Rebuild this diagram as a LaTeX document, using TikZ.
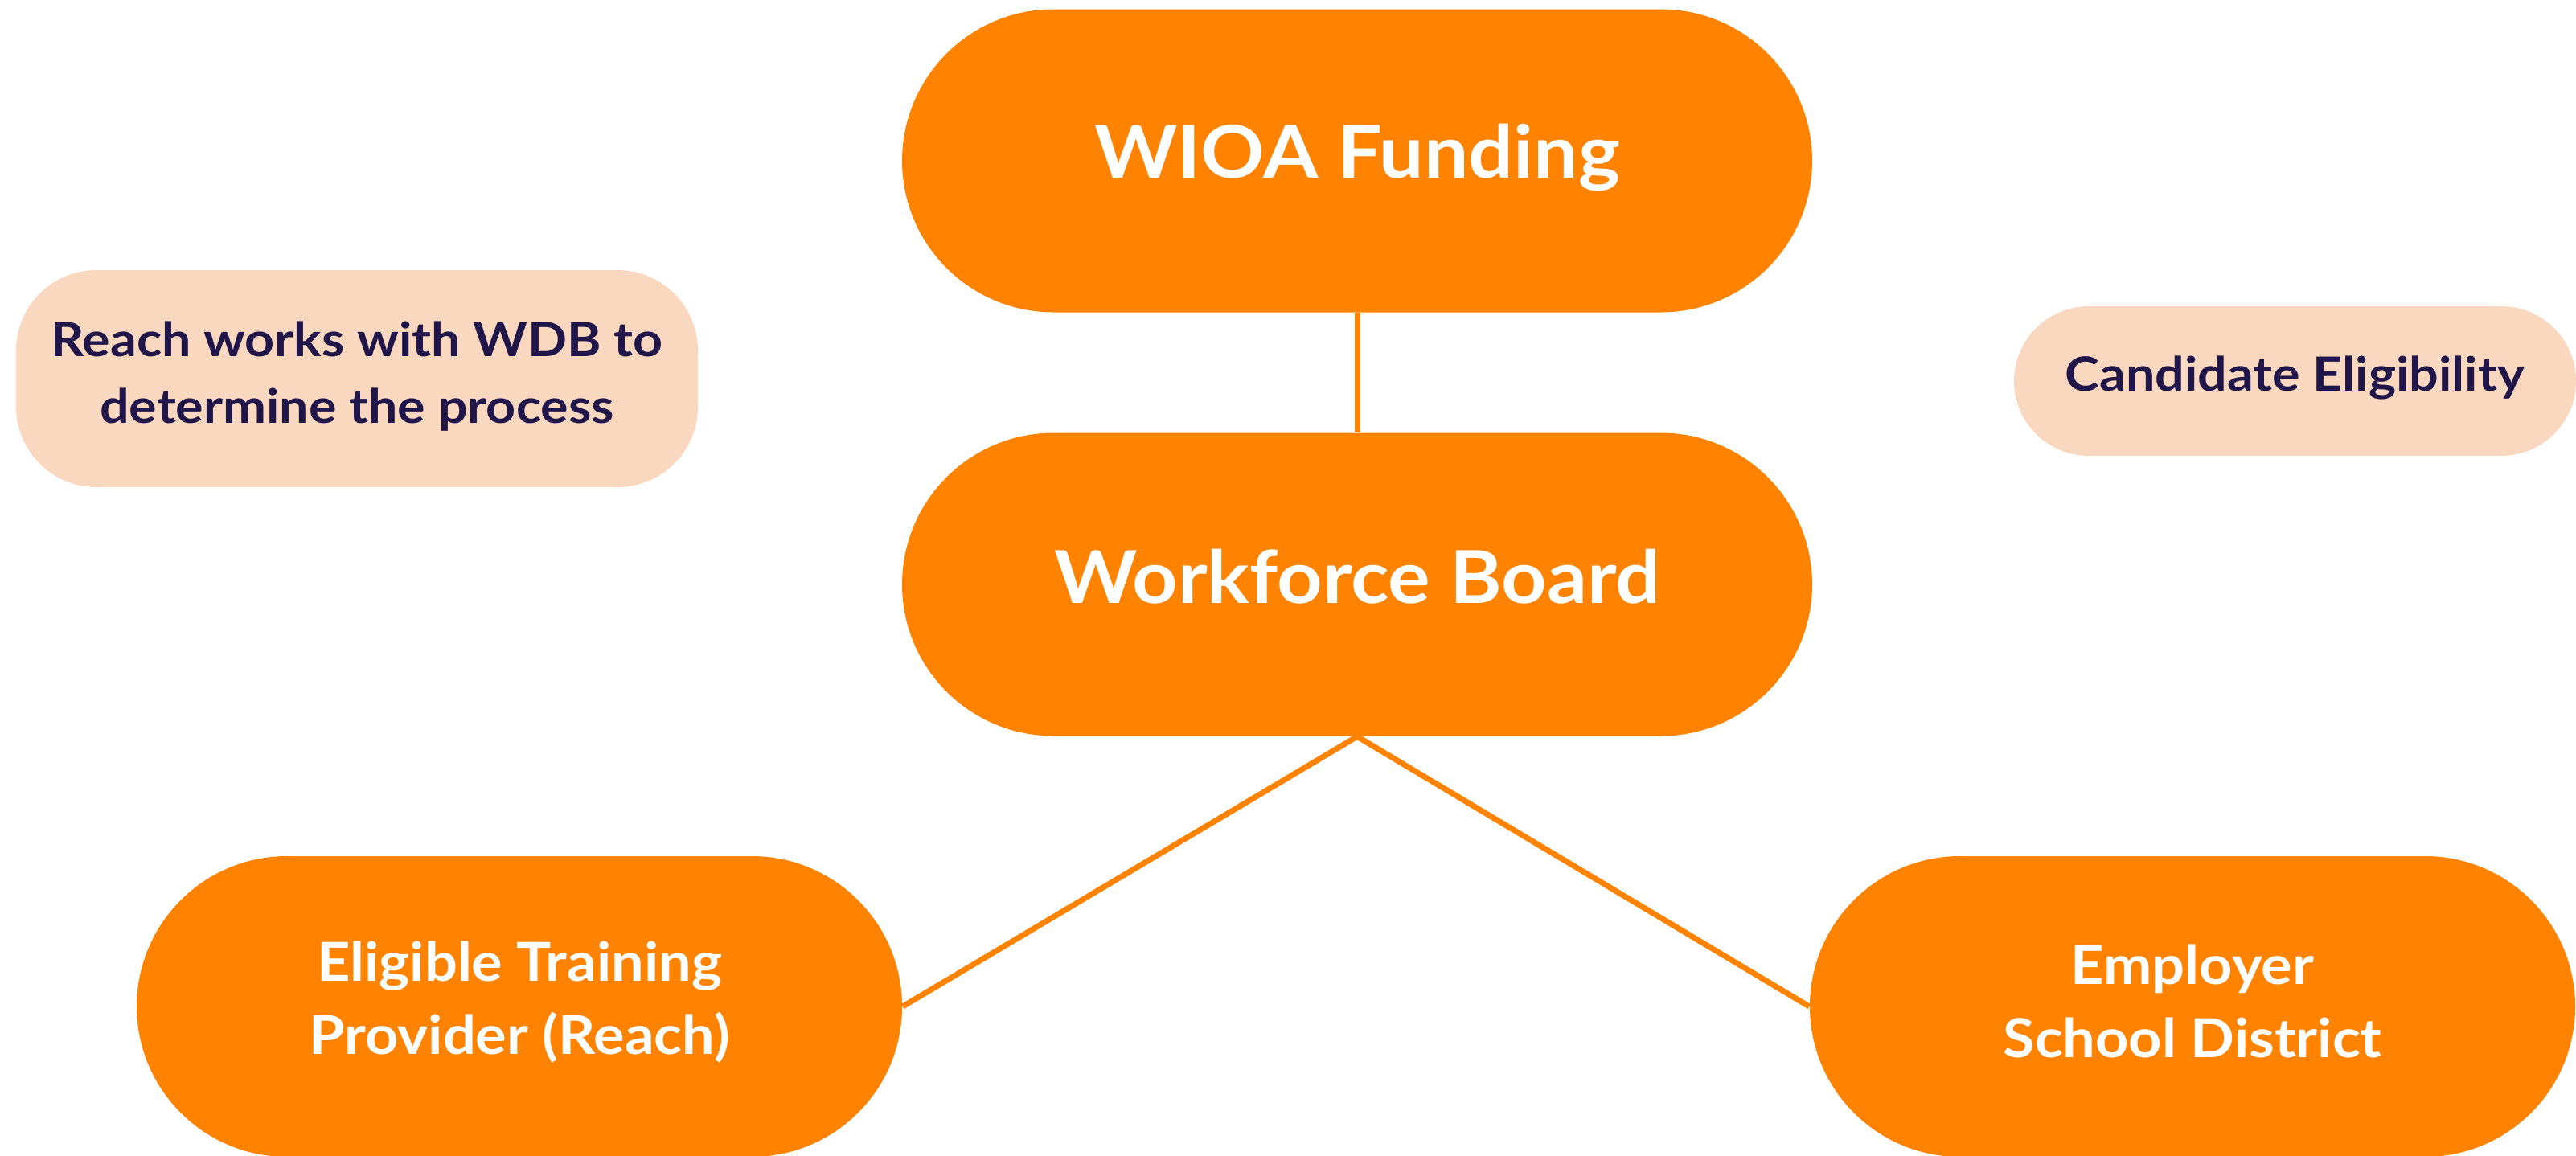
\documentclass[tikz,border=0pt]{standalone}
\usepackage{fontspec}
\setmainfont{Lato}
\newfontfamily\bigfont[FakeStretch=1.085]{Lato}
\newfontfamily\sidefont[FakeStretch=1.08]{Lato}
\newfontfamily\notefont[FakeStretch=1.1]{Lato}
\definecolor{orng}{HTML}{FF8300}
\definecolor{peach}{HTML}{FAD8BF}
\definecolor{navy}{HTML}{20164A}
\begin{document}
\begin{tikzpicture}[x=1cm,y=1cm,
  bigbox/.style={fill=orng, inner sep=0pt, minimum width=11.32cm, minimum height=3.77cm, rounded corners=1.885cm},
  sidebox/.style={fill=orng, inner sep=0pt, minimum width=9.52cm, minimum height=3.74cm, rounded corners=1.87cm},
  bigtext/.style={text=white, align=center, inner sep=0pt,
    font=\bigfont\bfseries\fontsize{25.8}{32}\selectfont},
  sidetext/.style={text=white, align=center, inner sep=0pt,
    font=\sidefont\bfseries\fontsize{19}{25.9}\selectfont},
  notetext/.style={text=navy, align=center, inner sep=0pt,
    font=\notefont\bfseries\fontsize{16.7}{23.6}\selectfont},
  link/.style={draw=orng, line width=0.07cm}]
\useasboundingbox (0,0) rectangle (32.04,-14.37);
\node[bigbox, label={[bigtext, yshift=0.04cm]center:WIOA Funding}] (wioa) at (16.88,-2.00) {};
\node[bigbox, label={[bigtext, yshift=0.10cm]center:Workforce Board}] (wf) at (16.88,-7.27) {};
\node[sidebox, label={[sidetext, yshift=0.06cm]center:{Eligible Training\\Provider (Reach)}}] (etp) at (6.46,-12.52) {};
\node[sidebox, label={[sidetext, yshift=0.07cm]center:{Employer\\School District}}] (emp) at (27.27,-12.52) {};
\node[fill=peach, inner sep=0pt, minimum width=8.48cm, minimum height=2.70cm, rounded corners=1.0cm,
  label={[notetext, yshift=0.03cm]center:{Reach works with WDB to\\determine the process}}] (reach) at (4.44,-4.71) {};
\node[fill=peach, inner sep=0pt, minimum width=6.99cm, minimum height=1.86cm, rounded corners=0.93cm,
  label={[notetext, yshift=0.04cm]center:Candidate Eligibility}] (cand) at (28.545,-4.74) {};
\draw[link] (wioa.south) -- (wf.north);
\draw[link] (wf.south) -- (etp.east);
\draw[link] (wf.south) -- (emp.west);
\end{tikzpicture}
\end{document}
